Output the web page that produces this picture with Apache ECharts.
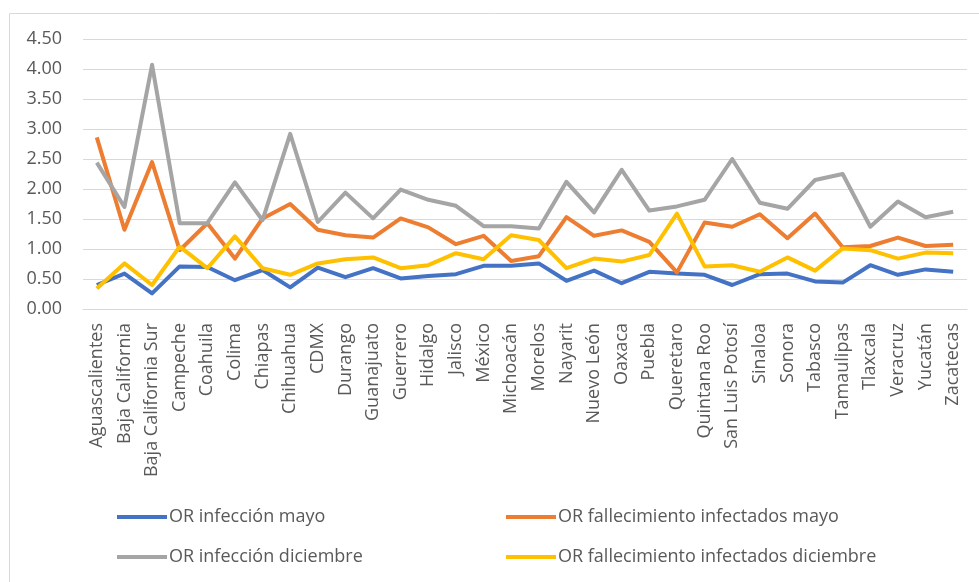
<!DOCTYPE html>
<html>
<head>
<meta charset="utf-8">
<script src="https://cdn.jsdelivr.net/npm/echarts@6/dist/echarts.min.js"></script>
<style>
  html, body { margin: 0; padding: 0; background: #ffffff; }
  #chart { width: 979px; height: 582px; }
</style>
</head>
<body>
<div id="chart"></div>
<script>
// Estados de la República
const estados = [
  'Aguascalientes', 'Baja California', 'Baja California Sur', 'Campeche', 'Coahuila',
  'Colima', 'Chiapas', 'Chihuahua', 'CDMX', 'Durango', 'Guanajuato', 'Guerrero',
  'Hidalgo', 'Jalisco', 'México', 'Michoacán', 'Morelos', 'Nayarit', 'Nuevo León',
  'Oaxaca', 'Puebla', 'Queretaro', 'Quintana Roo', 'San Luis Potosí', 'Sinaloa',
  'Sonora', 'Tabasco', 'Tamaulipas', 'Tlaxcala', 'Veracruz', 'Yucatán', 'Zacatecas'
];

const infeccionMayo = [
  0.40, 0.59, 0.26, 0.71, 0.70, 0.48, 0.65, 0.36, 0.69, 0.53, 0.68, 0.51,
  0.55, 0.58, 0.72, 0.72, 0.76, 0.47, 0.64, 0.43, 0.62, 0.59, 0.57, 0.40,
  0.58, 0.59, 0.46, 0.44, 0.73, 0.57, 0.66, 0.62
];

const fallecimientoMayo = [
  2.86, 1.32, 2.45, 0.98, 1.43, 0.84, 1.51, 1.75, 1.32, 1.23, 1.19, 1.51,
  1.36, 1.08, 1.22, 0.80, 0.88, 1.53, 1.22, 1.31, 1.12, 0.61, 1.44, 1.37,
  1.58, 1.18, 1.59, 1.03, 1.05, 1.19, 1.05, 1.07
];

const infeccionDiciembre = [
  2.44, 1.70, 4.07, 1.43, 1.43, 2.11, 1.48, 2.92, 1.45, 1.94, 1.51, 1.99,
  1.82, 1.72, 1.38, 1.38, 1.34, 2.12, 1.61, 2.32, 1.64, 1.71, 1.82, 2.50,
  1.77, 1.67, 2.15, 2.25, 1.37, 1.79, 1.53, 1.62
];

const fallecimientoDiciembre = [
  0.34, 0.76, 0.40, 1.04, 0.68, 1.21, 0.68, 0.57, 0.76, 0.83, 0.86, 0.68,
  0.73, 0.93, 0.83, 1.23, 1.15, 0.68, 0.84, 0.79, 0.90, 1.59, 0.71, 0.73,
  0.62, 0.86, 0.64, 1.01, 0.98, 0.84, 0.94, 0.93
];

const nombres = [
  'OR infección mayo',
  'OR fallecimiento infectados mayo',
  'OR infección diciembre',
  'OR fallecimiento infectados diciembre'
];
const colores = ['#4472C4', '#ED7D31', '#A5A5A5', '#FFC000'];
const valores = [infeccionMayo, fallecimientoMayo, infeccionDiciembre, fallecimientoDiciembre];

const fuente = '"Open Sans", "Liberation Sans", sans-serif';
const gris = '#595959';

// posiciones de la leyenda (2 x 2)
const leyendaPos = [
  { left: 117, top: 508 },
  { left: 506, top: 508 },
  { left: 117, top: 548 },
  { left: 506, top: 548 }
];

const chart = echarts.init(document.getElementById('chart'), null, { renderer: 'canvas' });

chart.setOption({
  animation: false,
  backgroundColor: '#ffffff',
  graphic: [{
    type: 'rect',
    shape: { x: 9.5, y: 13.5, width: 1000, height: 600 },
    style: { fill: 'none', stroke: '#d9d9d9', lineWidth: 1 },
    silent: true,
    z: -1
  }],
  grid: { left: 83, right: 12, top: 39, bottom: 273, containLabel: false },
  legend: nombres.map((n, i) => ({
    data: [n],
    left: leyendaPos[i].left,
    top: leyendaPos[i].top,
    icon: 'rect',
    itemWidth: 50,
    itemHeight: 4,
    itemGap: 0,
    padding: 0,
    selectedMode: false,
    textStyle: { color: gris, fontSize: 18, fontFamily: fuente, padding: [0, 0, 0, -3] }
  })),
  xAxis: {
    type: 'category',
    data: estados,
    boundaryGap: true,
    axisLine: { show: true, lineStyle: { color: '#d9d9d9', width: 1 } },
    axisTick: { show: false },
    axisLabel: {
      rotate: 90,
      interval: 0,
      color: gris,
      fontSize: 18,
      fontFamily: fuente,
      margin: 14
    }
  },
  yAxis: {
    type: 'value',
    min: 0,
    max: 4.5,
    interval: 0.5,
    axisLine: { show: false },
    axisTick: { show: false },
    splitLine: { lineStyle: { color: '#d9d9d9', width: 1 } },
    axisLabel: {
      color: gris,
      fontSize: 18,
      fontFamily: fuente,
      margin: 21,
      formatter: v => v.toFixed(2)
    }
  },
  series: valores.map((d, i) => ({
    name: nombres[i],
    type: 'line',
    data: d,
    showSymbol: false,
    symbol: 'none',
    lineStyle: { color: colores[i], width: 4, join: 'round' },
    itemStyle: { color: colores[i] },
    z: 2 + i
  }))
});
</script>
</body>
</html>
